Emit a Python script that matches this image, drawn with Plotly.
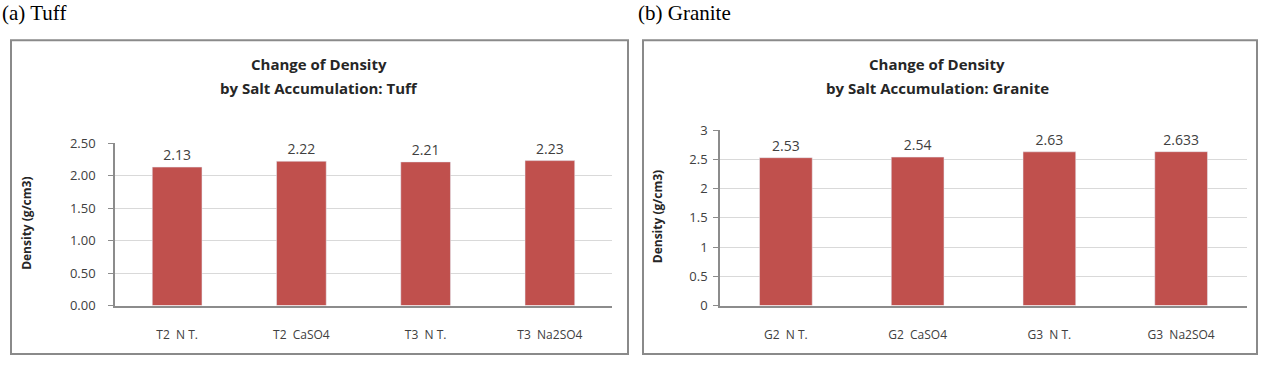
import plotly.graph_objects as go

W, H = 1266, 365

tuff_cats = ["T2  N T.", "T2  CaSO4", "T3  N T.", "T3  Na2SO4"]
tuff_vals = [2.13, 2.22, 2.21, 2.23]
tuff_labels = ["2.13", "2.22", "2.21", "2.23"]

granite_cats = ["G2  N T.", "G2  CaSO4", "G3  N T.", "G3  Na2SO4"]
granite_vals = [2.53, 2.54, 2.63, 2.633]
granite_labels = ["2.53", "2.54", "2.63", "2.633"]

tuff_ticks = [0, 0.5, 1.0, 1.5, 2.0, 2.5]
granite_ticks = [0, 0.5, 1, 1.5, 2, 2.5, 3]

BAR = "#c0504d"
TXT = "#404040"
GRID = "#d9d9d9"
AX = "#8c8c8c"
FONT = "Open Sans"

def px(x):
    return x / W

def py(y):
    return 1 - y / H

fig = go.Figure()
fig.add_trace(go.Bar(x=tuff_cats, y=tuff_vals, text=tuff_labels, textposition="outside",
                     marker_color=BAR, xaxis="x", yaxis="y", cliponaxis=False,
                     textfont=dict(size=14, color=TXT, family=FONT)))
fig.add_trace(go.Bar(x=granite_cats, y=granite_vals, text=granite_labels, textposition="outside",
                     marker_color=BAR, xaxis="x2", yaxis="y2", cliponaxis=False,
                     textfont=dict(size=14, color=TXT, family=FONT)))

common_y = dict(showgrid=True, gridcolor=GRID, gridwidth=1, showline=True, linecolor=AX,
                linewidth=1.5, ticks="outside", ticklen=5, tickcolor=AX,
                tickfont=dict(size=13, color=TXT, family=FONT), zeroline=False)
common_x = dict(showline=True, linecolor=AX, linewidth=1.5, ticks="",
                tickfont=dict(size=12, color=TXT, family=FONT), ticklabelstandoff=17)

fig.update_layout(
    width=W, height=H, margin=dict(l=0, r=0, t=0, b=0),
    paper_bgcolor="white", plot_bgcolor="white", showlegend=False,
    bargap=0.6,
    xaxis=dict(domain=[px(115), px(612)], anchor="y", **common_x),
    yaxis=dict(domain=[py(312), py(141)], anchor="x", range=[0, 2.5],
               tickvals=tuff_ticks, tickformat=".2f", ticklabelstandoff=10, **common_y),
    xaxis2=dict(domain=[px(720), px(1247)], anchor="y2", **common_x),
    yaxis2=dict(domain=[py(312), py(127.5)], anchor="x2", range=[0, 3],
                tickvals=granite_ticks, ticklabelstandoff=3, **common_y),
)

shapes = []
for x0, x1 in [(11, 628), (643, 1257)]:
    shapes.append(dict(type="rect", xref="paper", yref="paper",
                       x0=px(x0), x1=px(x1), y0=py(363), y1=py(33),
                       line=dict(color="#8a8a8a", width=2)))
fig.update_layout(shapes=shapes)

ann = []
for cx, l1, l2 in [(319, "Change of Density", "by Salt Accumulation: Tuff"),
                   (937, "Change of Density", "by Salt Accumulation: Granite")]:
    ann.append(dict(xref="paper", yref="paper", x=px(cx), y=py(58), text="<b>" + l1 + "</b>",
                    showarrow=False, font=dict(size=15, color="#262626", family=FONT),
                    xanchor="center", yanchor="middle"))
    ann.append(dict(xref="paper", yref="paper", x=px(cx), y=py(83), text="<b>" + l2 + "</b>",
                    showarrow=False, font=dict(size=15, color="#262626", family=FONT),
                    xanchor="center", yanchor="middle"))
for cx, cy in [(27, 226), (657, 219)]:
    ann.append(dict(xref="paper", yref="paper", x=px(cx), y=py(cy), text="<b>Density (g/cm3)</b>",
                    textangle=-90, showarrow=False, font=dict(size=12, color="#262626", family=FONT),
                    xanchor="center", yanchor="middle"))
ann.append(dict(xref="paper", yref="paper", x=px(0), y=py(4), text="(a) Tuff", showarrow=False,
                font=dict(size=21, color="black", family="Liberation Serif"),
                xanchor="left", yanchor="middle"))
ann.append(dict(xref="paper", yref="paper", x=px(636), y=py(4), text="(b) Granite", showarrow=False,
                font=dict(size=21, color="black", family="Liberation Serif"),
                xanchor="left", yanchor="middle"))
fig.update_layout(annotations=ann)

fig.write_html("out.html")
